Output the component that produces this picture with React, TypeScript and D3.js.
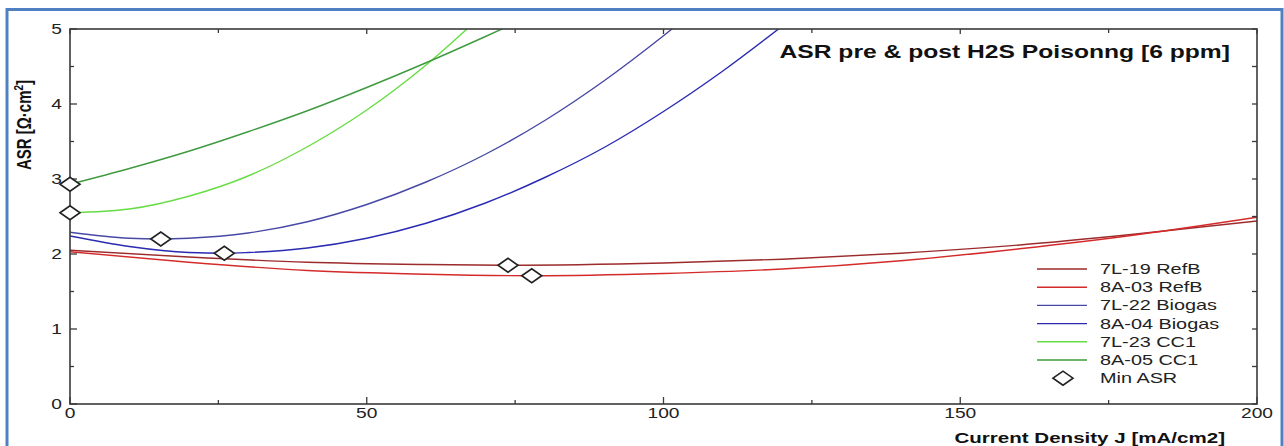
import React from "react";
import * as d3 from "d3";

const W = 1284;
const H = 446;
const margin = { left: 70, right: 27, top: 29, bottom: 42 };
const SX = 1.37; // the source picture is stretched horizontally

// tick values
const xMajor = [0, 50, 100, 150, 200];
const xMinor = [25, 75, 125, 175];
const yMajor = [0, 1, 2, 3, 4, 5];
const yMinor = [0.5, 1.5, 2.5, 3.5, 4.5];

// series (J in mA/cm2, ASR in ohm*cm2)
const names = ["7L-19 RefB", "8A-03 RefB", "7L-22 Biogas", "8A-04 Biogas", "7L-23 CC1", "8A-05 CC1"];
const colors = ["#9c2b2b", "#d42a2a", "#4848a6", "#2a2ab2", "#66dd44", "#3f9a3f"];

const j7L19 = [0, 20, 40, 60, 74, 100, 120, 140, 160, 180, 200];
const asr7L19 = [2.05, 1.96, 1.89, 1.86, 1.85, 1.88, 1.93, 2.01, 2.12, 2.27, 2.44];

const j8A03 = [0, 20, 40, 60, 78, 100, 120, 140, 160, 180, 200];
const asr8A03 = [2.03, 1.89, 1.78, 1.73, 1.71, 1.74, 1.8, 1.91, 2.07, 2.26, 2.49];

const j7L22 = [0, 10, 15, 20, 30, 40, 50, 60, 70, 80, 90, 100, 103];
const asr7L22 = [2.29, 2.21, 2.2, 2.21, 2.28, 2.43, 2.66, 2.96, 3.33, 3.78, 4.31, 4.91, 5.1];

const j8A04 = [0, 10, 20, 26, 30, 40, 50, 60, 70, 80, 90, 100, 110, 121];
const asr8A04 = [2.24, 2.1, 2.02, 2.01, 2.02, 2.08, 2.21, 2.41, 2.68, 3.02, 3.42, 3.9, 4.44, 5.1];

const j7L23 = [0, 10, 20, 30, 40, 50, 60, 68];
const asr7L23 = [2.55, 2.6, 2.77, 3.04, 3.43, 3.92, 4.52, 5.08];

const j8A05 = [0, 10, 20, 30, 40, 50, 60, 70, 75];
const asr8A05 = [2.93, 3.14, 3.37, 3.63, 3.91, 4.22, 4.55, 4.9, 5.08];

// minimum ASR markers
const minJ = [0, 0, 15.3, 26, 73.8, 77.8];
const minASR = [2.93, 2.55, 2.2, 2.01, 1.85, 1.71];

const seriesJ = [j7L19, j8A03, j7L22, j8A04, j7L23, j8A05];
const seriesASR = [asr7L19, asr8A03, asr7L22, asr8A04, asr7L23, asr8A05];

const font = "'Liberation Sans', Arial, Helvetica, sans-serif";

const diamond = (cx: number, cy: number, hw = 10, hh = 7) =>
  `M${cx - hw},${cy}L${cx},${cy - hh}L${cx + hw},${cy}L${cx},${cy + hh}Z`;

export default function App() {
  const x = d3.scaleLinear().domain([0, 200]).range([margin.left, W - margin.right]);
  const y = d3.scaleLinear().domain([0, 5]).range([H - margin.bottom, margin.top]);
  const line = d3
    .line<[number, number]>()
    .x((d) => x(d[0]))
    .y((d) => y(d[1]))
    .curve(d3.curveMonotoneX);

  const x0 = x(0), x1 = x(200), y0 = y(0), y1 = y(5);
  const axisColor = "#3a3a3a";

  const legendX = 1037;
  const legendY = 269;
  const legendStep = 18.2;

  return (
    <svg
      width={W}
      height={H}
      style={{ position: "absolute", left: 0, top: 0, background: "#fff" }}
      fontFamily={font}
    >
      <defs>
        <clipPath id="plot">
          <rect x={x0} y={y1} width={x1 - x0} height={y0 - y1} />
        </clipPath>
      </defs>

      {/* blue frame around the picture */}
      <path d={`M7,${H + 5}V9.5H1282V${H + 5}`} fill="none" stroke="#4f81c2" strokeWidth={3} />

      {/* curves */}
      <g clipPath="url(#plot)">
        {seriesJ.map((js, i) => (
          <path
            key={names[i]}
            d={line(js.map((j, k) => [j, seriesASR[i][k]]) as [number, number][]) || ""}
            fill="none"
            stroke={colors[i]}
            strokeWidth={1.4}
          />
        ))}
      </g>

      {/* plot box */}
      <rect x={x0} y={y1} width={x1 - x0} height={y0 - y1} fill="none" stroke={axisColor} strokeWidth={1.6} />

      {/* x ticks */}
      {xMajor.map((t) => (
        <g key={"xM" + t}>
          <line x1={x(t)} x2={x(t)} y1={y0} y2={y0 - 7} stroke={axisColor} strokeWidth={1.3} />
          <line x1={x(t)} x2={x(t)} y1={y1} y2={y1 + 5} stroke={axisColor} strokeWidth={1.3} />
          <text
            transform={`translate(${x(t)},418) scale(${SX},1)`}
            textAnchor="middle"
            fontSize={14}
            fill="#222"
          >
            {t}
          </text>
        </g>
      ))}
      {xMinor.map((t) => (
        <g key={"xm" + t}>
          <line x1={x(t)} x2={x(t)} y1={y0} y2={y0 - 4} stroke={axisColor} strokeWidth={1.3} />
          <line x1={x(t)} x2={x(t)} y1={y1} y2={y1 + 4} stroke={axisColor} strokeWidth={1.3} />
        </g>
      ))}

      {/* y ticks */}
      {yMajor.map((t) => (
        <g key={"yM" + t}>
          <line x1={x0} x2={x0 + 7} y1={y(t)} y2={y(t)} stroke={axisColor} strokeWidth={1.3} />
          <line x1={x1} x2={x1 - 5} y1={y(t)} y2={y(t)} stroke={axisColor} strokeWidth={1.3} />
          <text
            transform={`translate(62,${y(t) + 5}) scale(${SX},1)`}
            textAnchor="end"
            fontSize={14}
            fill="#222"
          >
            {t}
          </text>
        </g>
      ))}
      {yMinor.map((t) => (
        <g key={"ym" + t}>
          <line x1={x0} x2={x0 + 4} y1={y(t)} y2={y(t)} stroke={axisColor} strokeWidth={1.3} />
          <line x1={x1} x2={x1 - 5} y1={y(t)} y2={y(t)} stroke={axisColor} strokeWidth={1.3} />
        </g>
      ))}

      {/* min ASR markers */}
      {minJ.map((j, i) => (
        <path key={"min" + i} d={diamond(x(j), y(minASR[i]))} fill="#fff" stroke="#222" strokeWidth={1.6} />
      ))}

      {/* titles */}
      <text
        transform={`translate(1230,58) scale(${SX},1)`}
        textAnchor="end"
        fontSize={18}
        fontWeight="bold"
        fill="#111"
      >
        ASR pre &amp; post H2S Poisonng [6 ppm]
      </text>
      <text
        transform={`translate(1225,443) scale(${SX},1)`}
        textAnchor="end"
        fontSize={15}
        fontWeight="bold"
        fill="#111"
      >
        Current Density J [mA/cm2]
      </text>
      <text
        transform={`translate(31,125) scale(${SX},1) rotate(-90)`}
        textAnchor="middle"
        fontSize={15}
        fontWeight="bold"
        fill="#111"
      >
        ASR [Ω·cm<tspan fontSize={10} dy={-6}>2</tspan>
        <tspan dy={6}>]</tspan>
      </text>

      {/* legend */}
      {names.map((n, i) => (
        <g key={"lg" + n}>
          <line
            x1={legendX}
            x2={legendX + 50}
            y1={legendY + i * legendStep}
            y2={legendY + i * legendStep}
            stroke={colors[i]}
            strokeWidth={1.4}
          />
          <text
            transform={`translate(1100,${legendY + i * legendStep + 5}) scale(${SX},1)`}
            fontSize={14.5}
            fill="#222"
          >
            {n}
          </text>
        </g>
      ))}
      <path d={diamond(1063, legendY + 6 * legendStep)} fill="#fff" stroke="#222" strokeWidth={1.6} />
      <text
        transform={`translate(1100,${legendY + 6 * legendStep + 5}) scale(${SX},1)`}
        fontSize={14.5}
        fill="#222"
      >
        Min ASR
      </text>
    </svg>
  );
}
